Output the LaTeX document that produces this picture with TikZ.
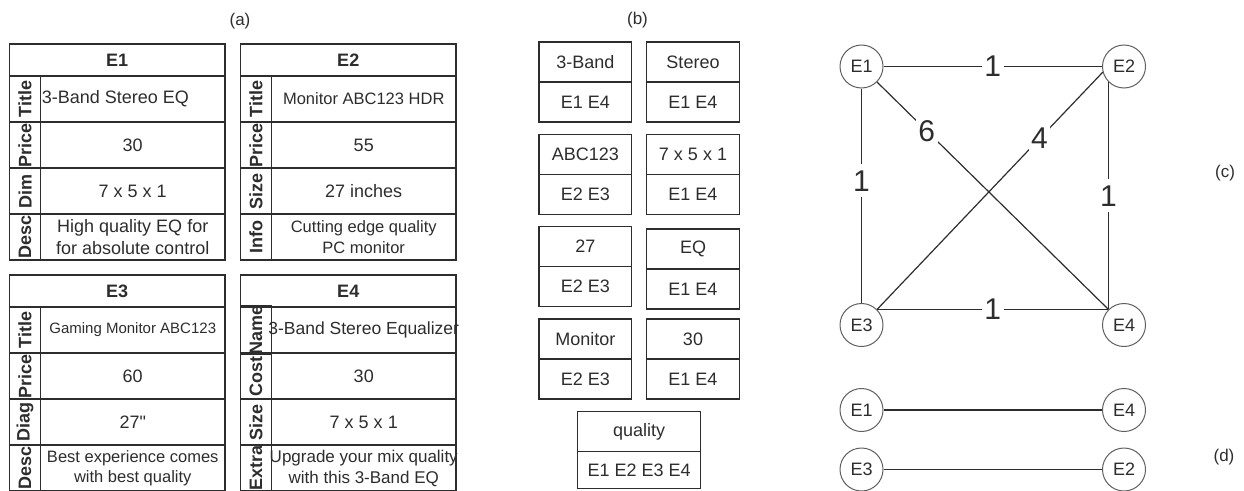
\documentclass[tikz,border=0pt]{standalone}
\usepackage{fontspec}
\setmainfont{Liberation Sans}[Ligatures=TeXOff]
\usetikzlibrary{positioning}
\definecolor{ink}{RGB}{45,45,45}
\definecolor{rim}{RGB}{95,95,95}
\tikzset{
  hcell/.style={draw=ink,line width=1.3pt,outer sep=0pt,minimum width=215.5,minimum height=32,
                font=\fontsize{18}{21}\selectfont\bfseries},
  lcell/.style={draw=ink,line width=1.3pt,outer sep=0pt,rotate=90,minimum width=46,minimum height=31,
                inner sep=0pt,font=\fontsize{18}{21}\selectfont\bfseries},
  vcell/.style={draw=ink,line width=1.3pt,outer sep=0pt,minimum width=184.5,minimum height=46,
                inner sep=1pt,align=center},
  wcell/.style={draw=ink,line width=1.3pt,outer sep=0pt,minimum width=92.7,minimum height=40,
                font=\fontsize{18}{21}\selectfont},
  vtx/.style={circle,draw=rim,line width=1pt,minimum size=43,inner sep=0pt,
              font=\fontsize{18}{21}\selectfont},
  link/.style={draw=ink,line width=1.2pt},
  wlab/.style={fill=white,font=\fontsize{30}{30}\selectfont,inner xsep=2.5pt,inner ysep=6pt},
  plab/.style={font=\fontsize{17}{20}\selectfont},
}
\begin{document}
\begin{tikzpicture}[x=1pt,y=-1pt,color=ink]
    \useasboundingbox (0,0) rectangle (1244,490);

    % (a) entity tables
    \node[plab] (la) at (240,21) {(a)};
    \node[hcell,anchor=north west] (e1) at (9.5,44) {E1};
    \node[hcell,anchor=north west] (e2) at (240.5,44) {E2};
    \node[hcell,anchor=north west] (e3) at (9.5,275) {E3};
    \node[hcell,anchor=north west] (e4) at (240.5,275) {E4};
    \foreach \lab/\fs/\val [count=\i] in {Title/18/{\makebox[182pt][l]{3-Band Stereo EQ}}, Price/18/30,
        Dim/18/{7 x 5 x 1}, Desc/18/{High quality EQ for\\for absolute control}} {
      \node[lcell] (e1l\i) at (25,53+46*\i) {\lab};
      \node[vcell,font=\fontsize{\fs}{22}\selectfont] (e1v\i) at (132.75,53+46*\i) {\val};
    }
    \foreach \lab/\fs/\val [count=\i] in {Title/16.5/{Monitor ABC123 HDR}, Price/18/55,
        Size/18/{27 inches}, Info/16.5/{Cutting edge quality\\PC monitor}} {
      \node[lcell] (e2l\i) at (256,53+46*\i) {\lab};
      \node[vcell,font=\fontsize{\fs}{21}\selectfont] (e2v\i) at (363.75,53+46*\i) {\val};
    }
    \foreach \lab/\fs/\val [count=\i] in {Title/15/{Gaming Monitor ABC123}, Price/18/60,
        Diag/18/{27"}, Desc/16.5/{Best experience comes\\with best quality}} {
      \node[lcell] (e3l\i) at (25,284+46*\i) {\lab};
      \node[vcell,font=\fontsize{\fs}{20}\selectfont] (e3v\i) at (132.75,284+46*\i) {\val};
    }
    \foreach \lab/\fs/\val [count=\i] in {Name/17.5/{\makebox[182pt]{3-Band Stereo Equalizer}}, Cost/18/30,
        Size/18/{7 x 5 x 1}, Extra/17/{\makebox[182pt]{Upgrade your mix quality}\\with this 3-Band EQ}} {
      \node[lcell] (e4l\i) at (256,284+46*\i) {\lab};
      \node[vcell,font=\fontsize{\fs}{21}\selectfont] (e4v\i) at (363.75,284+46*\i) {\val};
    }

    % (b) inverted index
    \node[plab] (lb) at (637.5,20) {(b)};
    \foreach \w/\e/\x/\y [count=\i] in {3-Band/{E1 E4}/585.3/42, Stereo/{E1 E4}/693/42,
        ABC123/{E2 E3}/585.3/134.3, {7 x 5 x 1}/{E1 E4}/693/134.3,
        27/{E2 E3}/585.3/226.7, EQ/{E1 E4}/693/229,
        Monitor/{E2 E3}/585.3/319, 30/{E1 E4}/693/319} {
      \node[wcell,anchor=north] (w\i) at (\x,\y) {\w};
      \node[wcell,below=0pt of w\i] (p\i) {\e};
    }
    \node[wcell,minimum width=123,anchor=north] (wq) at (639.2,411.7) {quality};
    \node[wcell,minimum width=123,minimum height=37,below=0pt of wq] (pq) {E1 E2 E3 E4};

    % (c) weighted graph
    \node[vtx] (c1) at (861.5,66.5) {E1};
    \node[vtx] (c2) at (1124,66.5) {E2};
    \node[vtx] (c3) at (861.5,325) {E3};
    \node[vtx] (c4) at (1124,325) {E4};
    \draw[link] (c1) -- node[wlab] (w12) {1} (c2);
    \draw[link] (c1) -- node[wlab,pos=0.43] (w13) {1} (c3);
    \draw[link] (c2.225) -- node[wlab] (w24) {1} (c4.135);
    \draw[link] (c3.45) -- node[wlab] (w34) {1} (c4.135);
    \draw[link] (c1.-45) -- node[wlab,pos=0.215] (w14) {6} (c4.135);
    \draw[link] (c3.45) -- node[wlab,pos=0.72] (w32) {4} (c2.195);
    \node[plab] (lc) at (1225,173) {(c)};

    % (d) matching
    \node[vtx] (d1) at (861.5,410) {E1};
    \node[vtx] (d4) at (1124,410) {E4};
    \node[vtx] (d3) at (861.5,469.5) {E3};
    \node[vtx] (d2) at (1124,469.5) {E2};
    \draw[link] (d1) -- (d4);
    \draw[link] (d3) -- (d2);
    \node[plab] (ld) at (1224,457) {(d)};
\end{tikzpicture}
\end{document}
